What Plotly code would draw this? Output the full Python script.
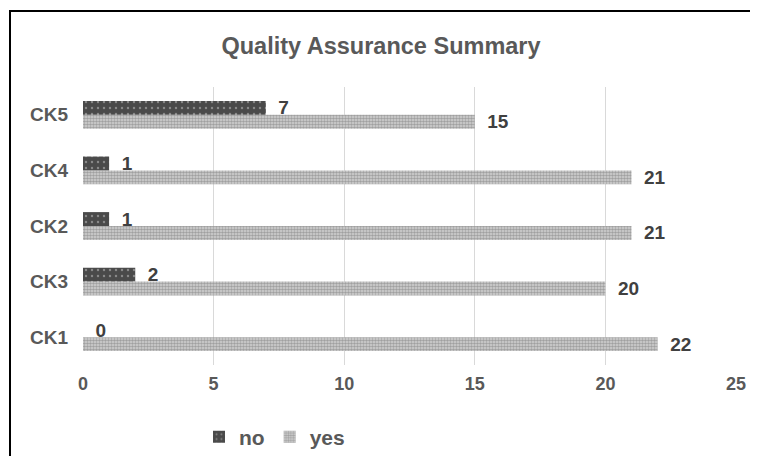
import plotly.graph_objects as go

categories = ["CK1", "CK3", "CK2", "CK4", "CK5"]
yes_vals = [22, 20, 21, 21, 15]
no_vals = [0, 2, 1, 1, 7]
x_ticks = [0, 5, 10, 15, 20, 25]

FONT = "Liberation Sans"
OFF = 8  # browser body margin
W, H = 758 - OFF, 456 - OFF
L, T = 83 - OFF, 87 - OFF
R = W - (736 - OFF)
B = H - (365 - OFF)
pw, ph = W - L - R, H - T - B

def py(pix):  # page pixel y -> paper y
    return (365 - pix) / ph

def px(pix):  # page pixel x -> paper x
    return (pix - 83) / pw

label_tmpl = "\u2002%{x}"

fig = go.Figure()
fig.add_trace(go.Bar(
    y=categories, x=yes_vals, name="yes", orientation="h",
    marker=dict(color="#d6d6d6", line=dict(width=0),
                pattern=dict(shape=".", fgcolor="#6a6a6a", bgcolor="#d6d6d6",
                             size=3, solidity=0.6)),
    texttemplate=label_tmpl, textposition="outside", cliponaxis=False,
    constraintext="none",
    textfont=dict(family=FONT, size=19, color="#404040", weight="bold"),
    legendrank=2,
))
fig.add_trace(go.Bar(
    y=categories, x=no_vals, name="no", orientation="h",
    marker=dict(color="#4a4a4a", line=dict(width=0),
                pattern=dict(shape=".", fgcolor="#c8c8c8", bgcolor="#4a4a4a",
                             size=6, solidity=0.12)),
    texttemplate=label_tmpl, textposition="outside", cliponaxis=False,
    constraintext="none",
    textfont=dict(family=FONT, size=19, color="#404040", weight="bold"),
    legendrank=1,
))

fig.update_layout(
    width=W, height=H,
    margin=dict(l=L, r=R, t=T, b=B, autoexpand=False),
    paper_bgcolor="white", plot_bgcolor="white",
    barmode="group", bargap=0.5, bargroupgap=0,
    font=dict(family=FONT, color="#595959"),
    title=dict(text="Quality Assurance Summary", x=(381 - OFF) / W, xanchor="center",
               y=1 - (46 - OFF) / H, yanchor="middle",
               font=dict(family=FONT, size=23.5, color="#595959", weight="bold")),
    xaxis=dict(range=[0, 25], tickvals=x_ticks, showgrid=True, gridcolor="#d9d9d9",
               gridwidth=1, zeroline=False, showline=False,
               tickfont=dict(family=FONT, size=18, color="#595959", weight="bold"),
               ticklabelstandoff=6),
    yaxis=dict(showgrid=False, zeroline=False, showline=False,
               tickfont=dict(family=FONT, size=19, color="#595959", weight="bold"),
               ticklabelstandoff=14),
    legend=dict(orientation="h", x=px(199), xanchor="left", y=py(437),
                yanchor="middle",
                font=dict(family=FONT, size=21, color="#595959", weight="bold"),
                traceorder="normal"),
)

# outer chart frame
fig.add_shape(type="rect", xref="paper", yref="paper",
              x0=px(10), x1=px(775), y0=py(475), y1=py(11),
              line=dict(color="black", width=2), fillcolor="rgba(0,0,0,0)", layer="below")

fig.write_html("out.html")
